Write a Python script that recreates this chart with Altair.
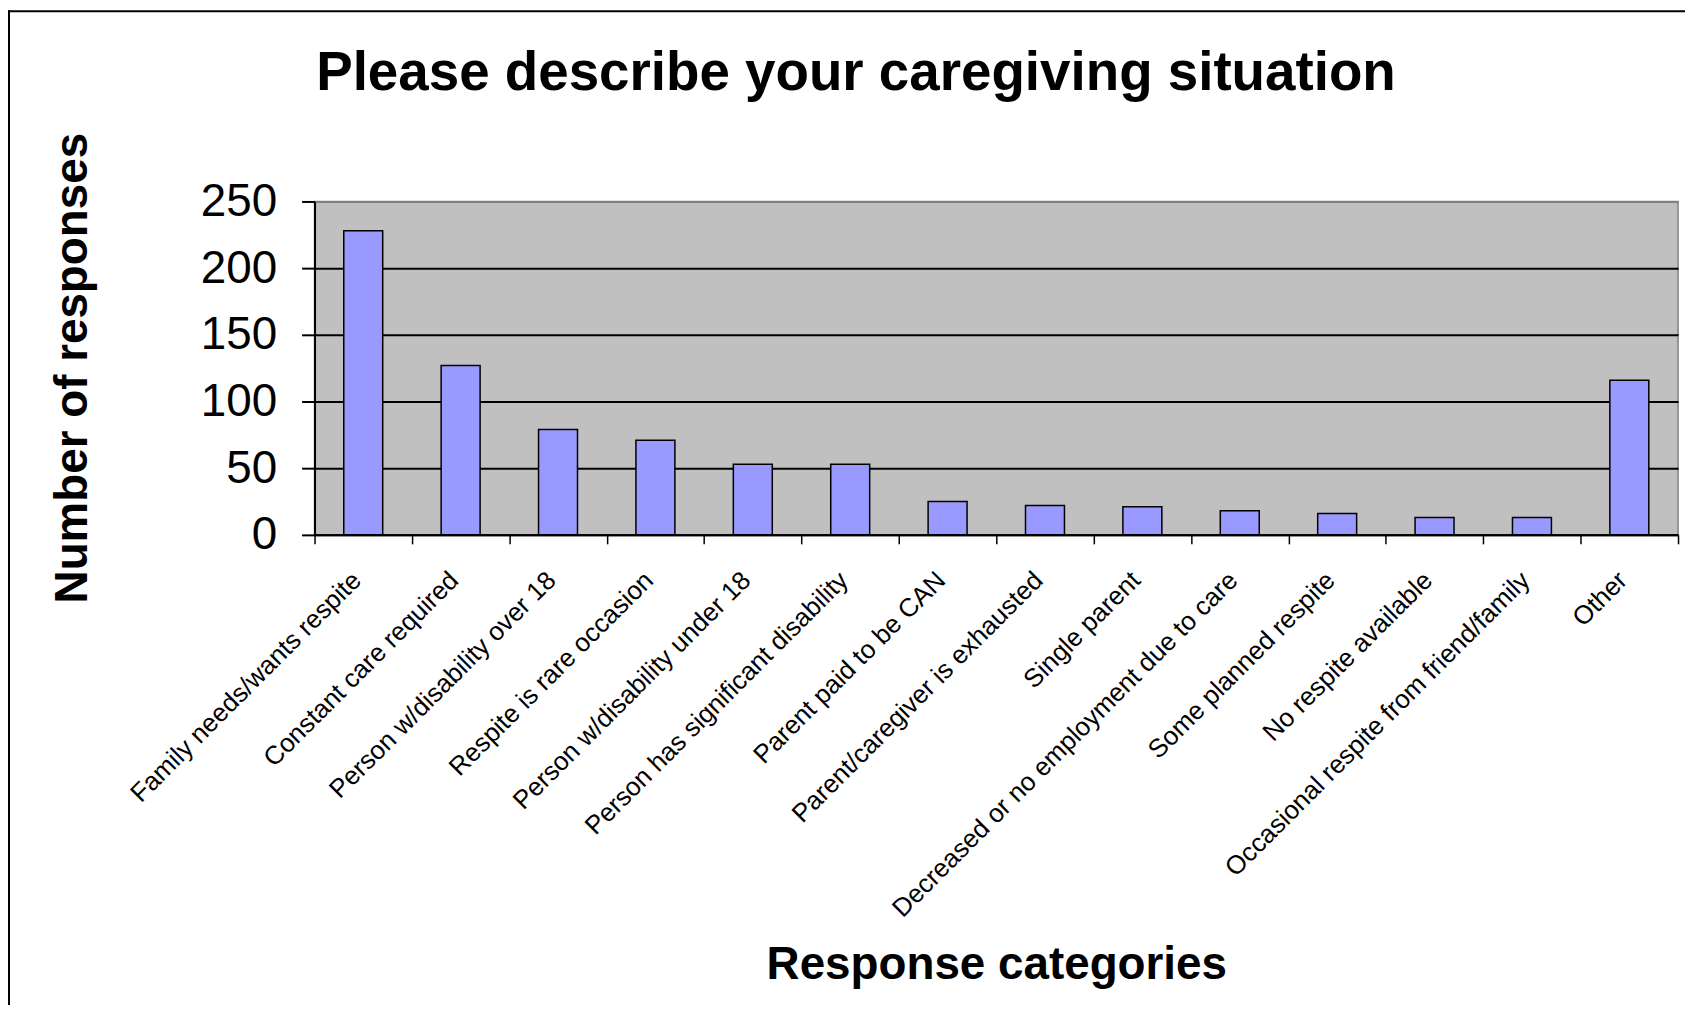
import altair as alt
import pandas as pd

categories = [
    "Family needs/wants respite",
    "Constant care required",
    "Person w/disability over 18",
    "Respite is rare occasion",
    "Person w/disability under 18",
    "Person has significant disability",
    "Parent paid to be CAN",
    "Parent/caregiver is exhausted",
    "Single parent",
    "Decreased or no employment due to care",
    "Some planned respite",
    "No respite available",
    "Occasional respite from friend/family",
    "Other",
]
responses = [228, 127, 79, 71, 53, 53, 25, 22, 21, 18, 16, 13, 13, 116]
y_ticks = [0, 50, 100, 150, 200, 250]

FONT = "Liberation Sans"

df = pd.DataFrame({"category": categories, "responses": responses})
frame_df = pd.DataFrame({"k": [0]})

bars = alt.Chart(df).mark_bar(
    color="#9999ff", stroke="black", strokeWidth=1.5,
    width=alt.RelativeBandSize(0.4),
).encode(
    x=alt.X(
        "category:N", sort=categories,
        scale=alt.Scale(paddingInner=0, paddingOuter=0),
        axis=alt.Axis(
            title="Response categories",
            labelAngle=-45, labelAlign="right", labelBaseline="top",
            labelOffset=-16, labelPadding=23, labelLimit=0,
            labelFont=FONT, labelFontSize=26, labelColor="black",
            tickSize=9, tickBand="extent", tickColor="black", tickWidth=1.5,
            domainColor="black", domainWidth=2, grid=False,
            titleFont=FONT, titleFontSize=46, titleFontWeight="bold",
            titleColor="black", titleX=685, titleY=446,
            titleBaseline="alphabetic", titleAlign="center",
        ),
    ),
    y=alt.Y(
        "responses:Q",
        scale=alt.Scale(domain=[0, 250], nice=False),
        axis=alt.Axis(
            title="Number of responses", values=y_ticks,
            labelFont=FONT, labelFontSize=46, labelColor="black",
            labelPadding=25, tickSize=13, tickColor="black", tickWidth=2,
            domainColor="black", domainWidth=2,
            grid=True, gridWidth=2,
            gridColor={"condition": {"test": "datum.value >= 250", "value": "#808080"}, "value": "black"},
            titleFont=FONT, titleFontSize=46, titleFontWeight="bold",
            titleColor="black", titleX=-229, titleY=167, titleAngle=-90,
            titleBaseline="alphabetic", titleAlign="center",
        ),
    ),
)

left_border = alt.Chart(frame_df).mark_rule(color="black", strokeWidth=2).encode(
    x=alt.value(-307), y=alt.value(-192), y2=alt.value(814)
)
top_border = alt.Chart(frame_df).mark_rule(color="black", strokeWidth=2).encode(
    x=alt.value(-308), x2=alt.value(1377), y=alt.value(-191)
)

chart = alt.layer(bars, left_border, top_border).properties(
    width=1370, height=335,
    title=alt.TitleParams(
        "Please describe your caregiving situation",
        font=FONT, fontSize=55, fontWeight="bold", color="black",
        anchor="middle", frame="group", dx=-141, offset=-136,
        baseline="alphabetic",
    ),
    autosize=alt.AutoSizeParams(type="none"),
    padding={"left": 308, "top": 192, "right": 7, "bottom": 470},
).configure(
    background="white",
    view=alt.ViewConfig(fill="#c0c0c0", stroke="#808080", strokeWidth=1.5),
)

chart.save("out.html", embed_options={"renderer": "svg", "actions": False})
